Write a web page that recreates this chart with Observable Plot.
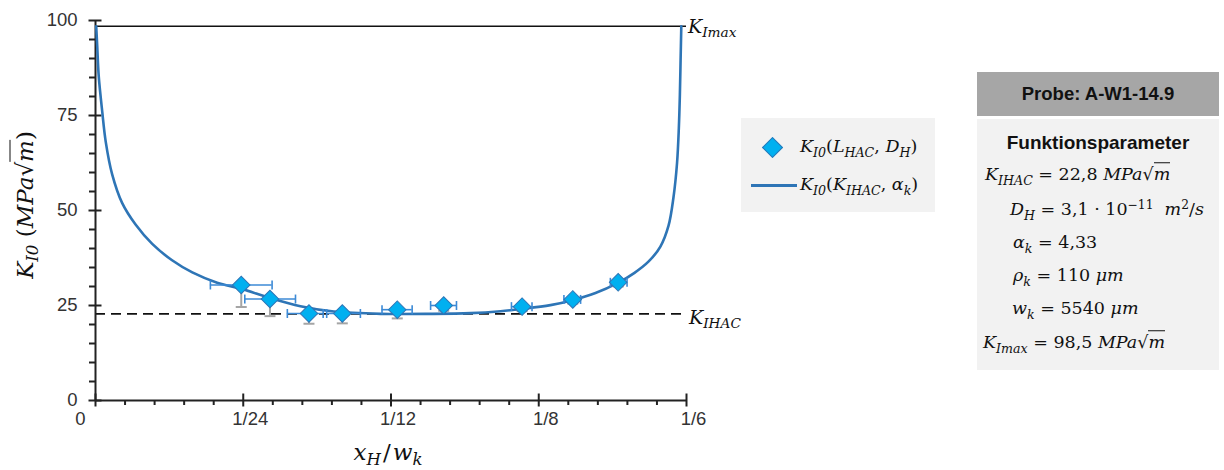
<!DOCTYPE html>
<html><head><meta charset="utf-8">
<script src="https://cdn.jsdelivr.net/npm/d3@7"></script>
<script src="https://cdn.jsdelivr.net/npm/@observablehq/plot@0.6"></script>
<style>
body{margin:0;background:#fff;}
#wrap{position:relative;width:1224px;height:470px;overflow:hidden;}
#wrap svg{position:absolute;left:0;top:0;}
.m{font-family:"DejaVu Serif",serif;font-style:italic;color:#111;white-space:nowrap;position:absolute;line-height:1;}
.m sub{font-size:0.72em;vertical-align:-0.35em;line-height:0;}
.m sup{font-size:0.7em;vertical-align:0.55em;line-height:0;}
.u{font-style:normal;}
.ov{border-top:1.2px solid #111;padding-top:1px;}
.box{position:absolute;}
.t{position:absolute;font-family:"Liberation Sans",Arial,sans-serif;font-weight:bold;color:#111;white-space:nowrap;line-height:1;}
</style></head><body><div id="wrap"></div>
<script>
// ---- data ----
const KImax = 98.5, KIHAC = 22.8;
const xMajor = [0, 1/24, 1/12, 1/8, 1/6];
const xMajorLabels = ["0", "1/24", "1/12", "1/8", "1/6"];
const yMajor = [0, 25, 50, 75, 100];

// measured points K_I0(L_HAC, D_H)
const ptX   = [0.0411, 0.0492, 0.0602, 0.0696, 0.0851, 0.0982, 0.1203, 0.1346, 0.1474];
const ptY   = [30.4, 26.7, 22.9, 22.9, 23.9, 25.0, 24.7, 26.6, 31.1];
const ptXLo = [0.0324, 0.0421, 0.0541, 0.0652, 0.0808, 0.0945, 0.1173, 0.1321, 0.1452];
const ptXHi = [0.0498, 0.0564, 0.0642, 0.0747, 0.0893, 0.1018, 0.1231, 0.1368, 0.1499];
const ptYLo = [24.6, 22.2, 20.2, 20.3, 21.6, 23.6, 23.5, 25.5, 30.0];

// fitted curve K_I0(K_IHAC, alpha_k)
const curveX = [0.0002, 0.0005, 0.0009, 0.0019, 0.0029, 0.0047, 0.0075, 0.0113, 0.0160, 0.0216, 0.0273,
  0.0343, 0.0411, 0.0494, 0.0578, 0.0672, 0.0804, 0.0945, 0.1058, 0.1142, 0.1203, 0.1283, 0.1345,
  0.1410, 0.1472, 0.1520, 0.1560, 0.1593, 0.1616, 0.1630, 0.1640, 0.1645, 0.1648, 0.1650, 0.1652];
const curveY = [98.5, 93.0, 85.5, 76.0, 68.0, 59.5, 52.0, 46.3, 41.2, 36.9, 33.7,
  31.0, 29.4, 26.9, 24.8, 23.4, 22.8, 22.8, 23.0, 23.5, 24.1, 25.1, 26.4,
  28.3, 30.9, 33.6, 36.6, 40.5, 46.0, 53.5, 62.5, 71.5, 80.5, 89.5, 98.5];

const points = ptX.map((x, i) => ({x, y: ptY[i], xlo: ptXLo[i], xhi: ptXHi[i], ylo: ptYLo[i]}));
const curve = curveX.map((x, i) => ({x, y: curveY[i]}));
const yMinor = d3.range(5, 100, 5).filter(v => v % 25 !== 0);
const xMinor = d3.range(1, 20).filter(i => i % 5 !== 0).map(i => i / 120);

// ---- plot ----
const W = 1224, H = 470, mL = 95, mR = 538, mT = 20, mB = 70;
const pw = W - mL - mR, ph = H - mT - mB;
const vline = {draw(ctx, size) { const h = Math.sqrt(size / Math.PI); ctx.moveTo(0, -h); ctx.lineTo(0, h); }};
const hline = {draw(ctx, size) { const h = Math.sqrt(size / Math.PI); ctx.moveTo(-h, 0); ctx.lineTo(h, 0); }};
const axisCol = "#222";
const labelFmt = d => xMajorLabels[xMajor.indexOf(d)];

const plot = Plot.plot({
  width: W, height: H, marginLeft: mL, marginRight: mR, marginTop: mT, marginBottom: mB,
  x: {domain: [0, 1/6]},
  y: {domain: [0, 100]},
  style: {fontFamily: '"Liberation Sans", Arial, sans-serif', fontSize: "18.5px", background: "transparent"},
  marks: [
    Plot.ruleY([KImax], {stroke: "#111", strokeWidth: 1.5}),
    Plot.ruleY([KIHAC], {stroke: "#111", strokeWidth: 1.7, strokeDasharray: "10,6"}),
    Plot.ruleX([0], {stroke: axisCol, strokeWidth: 2}),
    Plot.ruleY([0], {stroke: axisCol, strokeWidth: 2}),
    Plot.tickY(yMajor, {y: d => d, stroke: axisCol, strokeWidth: 2, insetRight: pw - 13, dx: -6.5}),
    Plot.tickY(yMinor, {y: d => d, stroke: axisCol, strokeWidth: 2, insetRight: pw - 6, dx: -6}),
    Plot.tickX(xMajor, {x: d => d, stroke: axisCol, strokeWidth: 2, insetTop: ph - 13, dy: 6.5}),
    Plot.tickX(xMinor, {x: d => d, stroke: axisCol, strokeWidth: 2, insetTop: ph - 5, dy: 5}),
    Plot.line(curve, {x: "x", y: "y", curve: "catmull-rom", stroke: "#2E75B6", strokeWidth: 2.6}),
    Plot.ruleX(points, {x: "x", y1: "ylo", y2: "y", stroke: "#A5A5A5", strokeWidth: 2}),
    Plot.dot(points, {x: "x", y: "ylo", symbol: hline, r: 5.5, stroke: "#A5A5A5", strokeWidth: 2, fill: "none"}),
    Plot.ruleY(points, {y: "y", x1: "xlo", x2: "xhi", stroke: "#3C8AD6", strokeWidth: 1.6}),
    Plot.dot(points, {x: "xlo", y: "y", symbol: vline, r: 4.5, stroke: "#3C8AD6", strokeWidth: 1.6, fill: "none"}),
    Plot.dot(points, {x: "xhi", y: "y", symbol: vline, r: 4.5, stroke: "#3C8AD6", strokeWidth: 1.6, fill: "none"}),
    Plot.dot(points, {x: "x", y: "y", symbol: "square", rotate: 45, r: 7, fill: "#00B0F0", stroke: "#2E75B6", strokeWidth: 1}),
    Plot.axisY({ticks: yMajor, tickSize: 0, tickPadding: 18, fontSize: 18.5, fill: "#333", label: null}),
    Plot.axisX({ticks: xMajor.slice(1), tickFormat: labelFmt, tickSize: 0, tickPadding: 11, dx: 7, fontSize: 18.5, fill: "#333", label: null}),
    Plot.axisX({ticks: [0], tickFormat: labelFmt, tickSize: 0, tickPadding: 11, dx: -15, fontSize: 18.5, fill: "#333", label: null})
  ]
});

const wrap = document.getElementById("wrap");
wrap.appendChild(plot);
const sx = plot.scale("x"), sy = plot.scale("y");

function place(cls, html, left, cy, opts = {}) {
  const d = document.createElement("div");
  d.className = cls;
  d.innerHTML = html;
  d.style.left = left + "px";
  d.style.top = cy + "px";
  d.style.fontSize = (opts.size || 17) + "px";
  d.style.transform = opts.center ? "translate(-50%,-50%)" : "translate(0,-50%)";
  if (opts.rotate) d.style.transform = "translate(-50%,-50%) rotate(-90deg)";
  wrap.appendChild(d);
  return d;
}
function box(left, top, w, h, bg) {
  const d = document.createElement("div");
  d.className = "box";
  Object.assign(d.style, {left: left + "px", top: top + "px", width: w + "px", height: h + "px", background: bg});
  wrap.appendChild(d);
}
const sqrtm = '<span class="u">√</span><span class="ov">m</span>';

// axis titles
place("m", 'K<sub>I0</sub> <span class="u">(</span>MPa' + sqrtm + '<span class="u">)</span>', 25, 205, {size: 23, rotate: true});
place("m", 'x<sub>H</sub><span class="u" style="margin:0 2px">/</span>w<sub>k</sub>', 388, 452, {size: 23, center: true});

// reference line labels
place("m", 'K<sub>Imax</sub>', sx.apply(1/6) + 2, sy.apply(KImax), {size: 19});
place("m", 'K<sub>IHAC</sub>', sx.apply(1/6) + 3, sy.apply(KIHAC) + 4, {size: 19});

// legend
box(741, 118, 194, 94, "#F2F2F2");
const dia = document.createElement("div");
Object.assign(dia.style, {position: "absolute", left: "765px", top: "140px", width: "13px", height: "13px",
  background: "#00B0F0", border: "1px solid #2E75B6", transform: "rotate(45deg)"});
wrap.appendChild(dia);
const ln = document.createElement("div");
Object.assign(ln.style, {position: "absolute", left: "751px", top: "184px", width: "46px", height: "2.6px", background: "#2E75B6"});
wrap.appendChild(ln);
place("m", 'K<sub>I0</sub><span class="u">(</span>L<sub>HAC</sub><span class="u">,</span> D<sub>H</sub><span class="u">)</span>', 800, 147, {size: 17.5});
place("m", 'K<sub>I0</sub><span class="u">(</span>K<sub>IHAC</sub><span class="u">,</span> α<sub>k</sub><span class="u">)</span>', 800, 185, {size: 17.5});

// parameter box
box(977, 72, 242, 44, "#A6A6A6");
box(977, 119, 242, 251, "#F2F2F2");
place("t", "Probe: A-W1-14.9", 1098, 94, {size: 18.5, center: true});
place("t", "Funktionsparameter", 1098, 142, {size: 19, center: true});
place("m", 'K<sub>IHAC</sub> <span class="u">= 22,8</span> MPa' + sqrtm, 985, 175, {size: 17.5});
place("m", 'D<sub>H</sub> <span class="u">= 3,1 · 10<sup>−11</sup></span>&nbsp; m<sup class="u">2</sup><span class="u">/</span>s', 1010, 210, {size: 17.5});
place("m", 'α<sub>k</sub> <span class="u">= 4,33</span>', 1013, 243, {size: 17.5});
place("m", 'ρ<sub>k</sub> <span class="u">= 110</span> μm', 1013, 276, {size: 17.5});
place("m", 'w<sub>k</sub> <span class="u">= 5540</span> μm', 1012, 309, {size: 17.5});
place("m", 'K<sub>Imax</sub> <span class="u">= 98,5</span> MPa' + sqrtm, 983, 343, {size: 17.5});
</script>
</body></html>
